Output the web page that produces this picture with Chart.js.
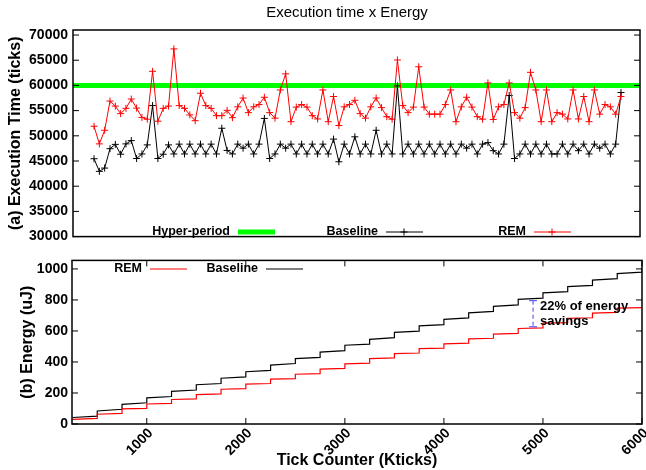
<!DOCTYPE html>
<html>
<head>
<meta charset="utf-8">
<script src="https://cdn.jsdelivr.net/npm/chart.js@4.4.1/dist/chart.umd.min.js"></script>
<style>
	html, body { margin: 0; padding: 0; background: #fff; }
	#wrap { position: relative; width: 646px; height: 470px; }
	#top { position: absolute; left: 0; top: 0; }
	#bottom { position: absolute; left: 0; top: 248px; }
</style>
</head>
<body>
<div id="wrap">
	<canvas id="top" width="646" height="250"></canvas>
	<canvas id="bottom" width="646" height="222"></canvas>
</div>
<script>
// (a) execution time per hyper-period
const hyperPeriod = 60000
const remTime = [
	51900, 48400, 51100, 56900, 55900, 54400, 55450, 57300, 55500, 53650, 53300, 62800, 52900, 55450, 55900, 67250,
	56000, 55450, 54150, 53000, 58450, 56000, 55450, 54000, 54000, 55050, 53600, 55750, 57500, 54600, 55750, 56200, 57650,
	54600, 53500, 59100, 62300, 52800, 55700, 56200, 55700, 54000, 53350, 59100, 52800, 57800, 52050, 55750, 56200, 57050,
	54400, 53500, 55750, 57500, 55600, 53800, 53300, 65050, 56000, 54600, 55700, 63700, 55700, 54300, 54300, 54300, 56200,
	59100, 52800, 55750, 57650, 55700, 53800, 53300, 60500, 53250, 55750, 56200, 60500, 54600, 53500, 55600, 62600, 59100,
	52800, 59100, 52800, 54600, 54300, 53350, 59100, 53350, 57800, 52800, 59100, 54300, 56200, 55750, 54300, 57800
]
const baseTime = [
	45450, 42950, 43600, 47450, 48300, 46350, 48400, 49050, 45500, 46400, 48200, 56000, 45500, 46350, 48200, 46400,
	48350, 46400, 48350, 46400, 48350, 46400, 48350, 46400, 51500, 47100, 46400, 48350, 47550, 48350, 46400, 48350, 53450,
	45500, 46400, 48350, 47550, 48350, 46400, 48350, 46400, 48350, 46400, 48350, 46400, 49350, 44850, 48350, 46400, 49800,
	46400, 48350, 46400, 51100, 46400, 48350, 46400, 59900, 46400, 48350, 46400, 48350, 46400, 48350, 46400, 48350, 46400,
	48350, 46400, 48350, 47550, 48350, 46400, 48350, 48650, 47050, 46400, 48350, 58000, 45500, 46400, 48350, 46400, 48350,
	46400, 48350, 46400, 46400, 48350, 46400, 48350, 47050, 48350, 46400, 48350, 47550, 48350, 46400, 48350, 58600
]
const timeTicks = [30000, 35000, 40000, 45000, 50000, 55000, 60000, 65000, 70000]

// (b) energy, one step every 250 Kticks
const energyTicks = [250, 500, 750, 1000, 1250, 1500, 1750, 2000, 2250, 2500, 2750, 3000, 3250, 3500, 3750, 4000, 4250, 4500, 4750, 5000, 5250, 5500, 5750, 6000]
const baseStart = [42, 84, 127, 169, 211, 253, 295, 337, 380, 422, 464, 508, 546, 591, 633, 675, 717, 759, 804, 846, 886, 928, 970, 1006]
const baseEnd = [51, 95, 137, 177, 219, 261, 304, 346, 390, 430, 473, 515, 557, 599, 641, 684, 726, 768, 812, 854, 894, 937, 979]
const remStart = [30, 63, 97, 129, 158, 190, 224, 257, 289, 321, 354, 388, 422, 454, 486, 517, 549, 580, 616, 650, 681, 715, 747]
const remEnd = [36, 68, 101, 133, 162, 194, 228, 261, 293, 325, 359, 392, 426, 458, 489, 521, 553, 584, 620, 654, 685, 720, 751]
const energyYTicks = [0, 200, 400, 600, 800, 1000]
const kticksLabels = [1000, 2000, 3000, 4000, 5000, 6000]

// savings marker
const savingsAt = 4900
const savingsLow = 627
const savingsHigh = 795

const FONT = '"Liberation Sans", Arial, Helvetica, sans-serif'
const RED = '#ff0000'
const GREEN = '#00ff00'

function stepPoints(starts, ends) {
	let pts = []
	for (let i = 0; i < ends.length; i++) {
		pts.push({ x: energyTicks[i], y: starts[i] })
		pts.push({ x: energyTicks[i + 1], y: ends[i] })
	}
	if (starts.length > ends.length) pts.push({ x: energyTicks[ends.length], y: starts[ends.length] })
	return pts
}

function line(ctx, x1, y1, x2, y2) {
	ctx.beginPath()
	ctx.moveTo(x1, y1)
	ctx.lineTo(x2, y2)
	ctx.stroke()
}

function cross(ctx, x, y, r) {
	line(ctx, x - r, y, x + r, y)
	line(ctx, x, y - r, x, y + r)
}

// box round the plot, ticks pointing inwards
const framePlugin = {
	id: 'frame',
	afterDraw(chart, args, opts) {
		const { ctx, chartArea: a } = chart
		ctx.save()
		ctx.strokeStyle = '#000'
		ctx.lineWidth = 1.5
		ctx.strokeRect(a.left, a.top, a.right - a.left, a.bottom - a.top)
		ctx.lineWidth = 1
		const y = chart.scales.y
		y.ticks.forEach(t => {
			const p = y.getPixelForValue(t.value)
			line(ctx, a.left, p, a.left + 6, p)
			line(ctx, a.right, p, a.right - 6, p)
		})
		if (opts.xTicks) {
			const x = chart.scales.x
			x.ticks.forEach(t => {
				const p = x.getPixelForValue(t.value)
				line(ctx, p, a.bottom, p, a.bottom - 6)
				line(ctx, p, a.top, p, a.top + 6)
			})
		}
		ctx.restore()
	}
}

// legend: text first, then the line sample
const keyPlugin = {
	id: 'key',
	afterDraw(chart, args, opts) {
		const ctx = chart.ctx
		ctx.save()
		ctx.font = 'bold 12.5px ' + FONT
		ctx.textAlign = 'right'
		ctx.textBaseline = 'middle'
		ctx.fillStyle = '#000'
		opts.items.forEach(it => {
			ctx.fillText(it.text, it.x, opts.y)
			ctx.strokeStyle = it.color
			ctx.lineWidth = it.width
			line(ctx, it.x + 8, opts.y, it.x + 45, opts.y)
			if (it.mark) {
				ctx.lineWidth = 1
				cross(ctx, it.x + 26, opts.y, 3.5)
			}
		})
		if (opts.title) {
			ctx.font = '15px ' + FONT
			ctx.textAlign = 'center'
			ctx.fillText(opts.title, 347, 13)
		}
		ctx.restore()
	}
}

const savingsPlugin = {
	id: 'savings',
	afterDraw(chart) {
		const { ctx, scales } = chart
		const x = scales.x.getPixelForValue(savingsAt)
		const y1 = scales.y.getPixelForValue(savingsHigh)
		const y2 = scales.y.getPixelForValue(savingsLow)
		ctx.save()
		ctx.strokeStyle = '#4040ff'
		ctx.lineWidth = 1
		line(ctx, x - 4, y1, x + 4, y1)
		line(ctx, x - 4, y2, x + 4, y2)
		ctx.setLineDash([4, 3])
		line(ctx, x, y1, x, y2)
		ctx.setLineDash([])
		ctx.fillStyle = '#000'
		ctx.font = 'bold 13px ' + FONT
		ctx.textAlign = 'left'
		ctx.textBaseline = 'middle'
		ctx.fillText('22% of energy', x + 7, y1 + 6)
		ctx.fillText('savings', x + 7, y1 + 21)
		ctx.restore()
	}
}

function tickFont(size) {
	return { family: FONT, size: size, weight: 'bold' }
}

function drawTime(id) {
	const idx = remTime.map((v, i) => i + 1)
	const data = {
		datasets: [{
			label: 'REM',
			data: idx.map((x, i) => ({ x: x, y: remTime[i] })),
			borderColor: RED,
			borderWidth: 1,
			pointStyle: 'cross',
			pointRadius: 3.5,
			pointBorderColor: RED,
			pointBorderWidth: 1,
			tension: 0
		}, {
			label: 'Baseline',
			data: idx.map((x, i) => ({ x: x, y: baseTime[i] })),
			borderColor: '#000',
			borderWidth: 1,
			pointStyle: 'cross',
			pointRadius: 3.5,
			pointBorderColor: '#000',
			pointBorderWidth: 1,
			tension: 0
		}, {
			label: 'Hyper-period',
			data: [{ x: -10, y: hyperPeriod }, { x: 110, y: hyperPeriod }],
			borderColor: GREEN,
			borderWidth: 5,
			pointRadius: 0
		}]
	}
	const config = {
		type: 'line',
		data: data,
		plugins: [framePlugin, keyPlugin],
		options: {
			responsive: false,
			animation: false,
			events: [],
			layout: { padding: { left: 0, right: 6, top: 30, bottom: 7 } },
			plugins: {
				legend: { display: false },
				tooltip: { enabled: false },
				frame: { xTicks: false },
				key: {
					y: 232,
					title: 'Execution time x Energy',
					items: [
						{ text: 'Hyper-period', x: 230, color: GREEN, width: 5 },
						{ text: 'Baseline', x: 378, color: '#000', width: 1, mark: true },
						{ text: 'REM', x: 526, color: RED, width: 1, mark: true }
					]
				}
			},
			scales: {
				x: { type: 'linear', display: false, min: -2.95, max: 103.57 },
				y: {
					min: 30000,
					max: 71000,
					afterBuildTicks: s => { s.ticks = timeTicks.map(v => ({ value: v })) },
					afterFit: s => { s.width = 73 },
					grid: { display: false, drawTicks: false },
					border: { display: false },
					ticks: { color: '#000', padding: 5, font: tickFont(14), callback: v => String(v) },
					title: {
						display: true,
						text: '(a) Execution Time (ticks)',
						color: '#000',
						font: { family: FONT, size: 16, weight: 'bold' },
						padding: { top: 6, bottom: 0 }
					}
				}
			}
		}
	}
	let ctx = document.getElementById(id).getContext("2d")
	new Chart(ctx, config)
}

function drawEnergy(id) {
	const data = {
		datasets: [{
			label: 'REM',
			data: stepPoints(remStart, remEnd),
			borderColor: RED,
			borderWidth: 1.2,
			pointRadius: 0,
			tension: 0
		}, {
			label: 'Baseline',
			data: stepPoints(baseStart, baseEnd),
			borderColor: '#000',
			borderWidth: 1.2,
			pointRadius: 0,
			tension: 0
		}]
	}
	const config = {
		type: 'line',
		data: data,
		plugins: [framePlugin, keyPlugin, savingsPlugin],
		options: {
			responsive: false,
			animation: false,
			events: [],
			layout: { padding: { left: 14, right: 4, top: 9, bottom: 0 } },
			plugins: {
				legend: { display: false },
				tooltip: { enabled: false },
				frame: { xTicks: true },
				key: {
					y: 21,
					items: [
						{ text: 'REM', x: 142, color: RED, width: 1.2 },
						{ text: 'Baseline', x: 258, color: '#000', width: 1.2 }
					]
				}
			},
			scales: {
				x: {
					type: 'linear',
					min: 245,
					max: 6000,
					afterBuildTicks: s => { s.ticks = kticksLabels.map(v => ({ value: v })) },
					afterFit: s => { s.height = 46; s.paddingLeft = 0; s.paddingRight = 0 },
					grid: { display: false, drawTicks: false },
					border: { display: false },
					ticks: { color: '#000', padding: 1, labelOffset: 4, minRotation: 45, maxRotation: 45, autoSkip: false, font: tickFont(14), callback: v => String(v) },
					title: {
						display: true,
						text: 'Tick Counter (Kticks)',
						color: '#000',
						font: { family: FONT, size: 16, weight: 'bold' },
						padding: { top: 0, bottom: 0 }
					}
				},
				y: {
					min: 0,
					max: 1055,
					afterBuildTicks: s => { s.ticks = energyYTicks.map(v => ({ value: v })) },
					afterFit: s => { s.width = 58 },
					grid: { display: false, drawTicks: false },
					border: { display: false },
					ticks: { color: '#000', padding: 4, font: tickFont(14), callback: v => String(v) },
					title: {
						display: true,
						text: '(b) Energy (uJ)',
						color: '#000',
						font: { family: FONT, size: 16, weight: 'bold' },
						padding: { top: 4, bottom: 0 }
					}
				}
			}
		}
	}
	let ctx = document.getElementById(id).getContext("2d")
	new Chart(ctx, config)
}

drawTime('top')
drawEnergy('bottom')
</script>
</body>
</html>
